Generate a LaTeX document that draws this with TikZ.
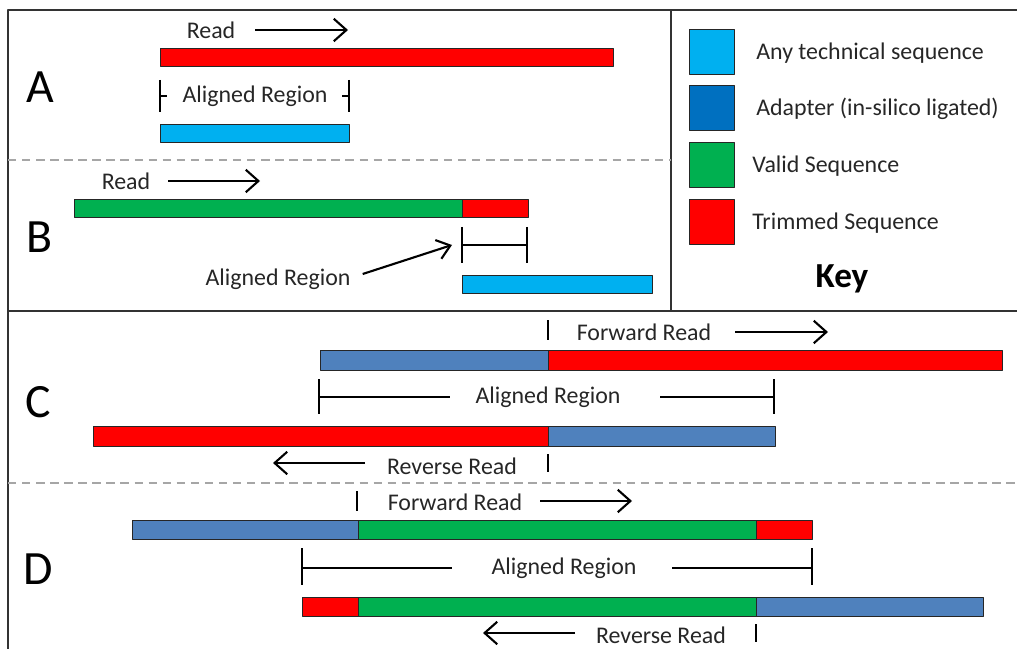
\documentclass[tikz,border=0pt]{standalone}
\usepackage{fontspec}
\setmainfont{Carlito}
\usetikzlibrary{arrows.meta, positioning, calc}
\definecolor{trimred}{HTML}{FF0000}
\definecolor{techblue}{HTML}{00B0F0}
\definecolor{adaptblue}{HTML}{0070C0}
\definecolor{readblue}{HTML}{4F81BD}
\definecolor{validgreen}{HTML}{00B050}
\definecolor{inktext}{HTML}{262626}

\begin{document}
\begin{tikzpicture}[x=0.025cm, y=-0.025cm, line join=round,
    seq/.style={draw=black!85, line width=0.5pt},
    tick/.style={line width=1.4pt},
    readarrow/.style={line width=1.5pt, -{Straight Barb[length=9pt,width=16pt]}},
    lbl/.style={font=\fontsize{17}{20}\selectfont, text=inktext, inner sep=0pt},
    panel/.style={font=\fontsize{34}{38}\selectfont, inner sep=0pt},
    keybox/.style={draw=black!85, line width=0.5pt, minimum size=1.12cm, inner sep=0pt},
    sep/.style={gray!70, line width=0.9pt, dash pattern=on 6pt off 4pt}]
      \useasboundingbox (0,0) rectangle (1017,649);
      % frame
      \draw[line width=0.9pt, black!80] (8,649) -- (8,10) -- (1017,10);
      \draw[line width=0.9pt, black!80] (671,10) -- (671,311);
      \draw[line width=0.9pt, black!80] (8,311) -- (1017,311);
      \draw[sep] (8,160) -- (671,160);
      \draw[sep] (8,483) -- (1017,483);

      % A
      \node[panel] (pA) at (40,87) {A};
      \node[lbl] (readA) at (211,30) {Read};
      \draw[readarrow] (255,30) -- (348,30);
      \draw[seq, fill=trimred] (160,48) rectangle (613,66);
      \node[lbl] (alA) at (255,96) {Aligned Region};
      \draw[tick] (160,80) -- (160,112) (160,96) -- (167,96);
      \draw[tick] (349,80) -- (349,112) (349,96) -- (342,96);
      \draw[seq, fill=techblue] (160,124) rectangle (349,142);

      % B
      \node[panel] (pB) at (40,237) {B};
      \node[lbl] (readB) at (126,181) {Read};
      \draw[readarrow] (168,181) -- (260,181);
      \draw[seq, fill=validgreen] (74,199) rectangle (462,217);
      \draw[seq, fill=trimred] (462,199) rectangle (528,217);
      \draw[tick] (462,227) -- (462,263) (527,227) -- (527,263) (462,245) -- (527,245);
      \node[lbl] (alB) at (278,279) {Aligned Region};
      \coordinate (alBtip) at (452,245);
      \draw[line width=1.5pt, -{Straight Barb[length=9pt,width=14pt]}] (alB.east) ++(12,-5) -- (alBtip);
      \draw[seq, fill=techblue] (462,275) rectangle (652,293);

      % key
      \node[keybox, fill=techblue] (k1) at (711.5,51.5) {};
      \node[keybox, fill=adaptblue] (k2) at (711.5,107.5) {};
      \node[keybox, fill=validgreen] (k3) at (711.5,164.5) {};
      \node[keybox, fill=trimred] (k4) at (711.5,221.5) {};
      \node[lbl, anchor=west] at (756,53) {Any technical sequence};
      \node[lbl, anchor=west] at (756,109) {Adapter (in-silico ligated)};
      \node[lbl, anchor=west] at (752,166) {Valid Sequence};
      \node[lbl, anchor=west] at (752,223) {Trimmed Sequence};
      \node[font=\fontsize{25}{30}\selectfont\bfseries, inner sep=0pt] (key) at (842,279) {Key};

      % C
      \node[panel] (pC) at (38,402) {C};
      \draw[tick] (548,320) -- (548,340);
      \node[lbl] (fwdC) at (644,332) {Forward Read};
      \draw[readarrow] (735,332) -- (828,332);
      \draw[seq, fill=readblue] (320,350) rectangle (548,370);
      \draw[seq, fill=trimred] (548,350) rectangle (1002,370);
      \node[lbl] (alC) at (548,397) {Aligned Region};
      \draw[tick] (319,379) -- (319,414) (319,397) -- (450,397);
      \draw[tick] (774,379) -- (774,414) (774,397) -- (660,397);
      \draw[seq, fill=trimred] (93,426) rectangle (548,446);
      \draw[seq, fill=readblue] (548,426) rectangle (775,446);
      \draw[readarrow] (365,463) -- (273,463);
      \node[lbl] (revC) at (452,466) {Reverse Read};
      \draw[tick] (548,454) -- (548,472);

      % D
      \node[panel] (pD) at (38,569) {D};
      \draw[tick] (357,491) -- (357,511);
      \node[lbl] (fwdD) at (455,502) {Forward Read};
      \draw[readarrow] (540,501) -- (632,501);
      \draw[seq, fill=readblue] (132,520) rectangle (358,539);
      \draw[seq, fill=validgreen] (358,520) rectangle (756,539);
      \draw[seq, fill=trimred] (756,520) rectangle (812,539);
      \node[lbl] (alD) at (564,568) {Aligned Region};
      \draw[tick] (302,548) -- (302,585) (302,568) -- (452,568);
      \draw[tick] (812,548) -- (812,585) (812,568) -- (672,568);
      \draw[seq, fill=trimred] (302,597) rectangle (358,616);
      \draw[seq, fill=validgreen] (358,597) rectangle (756,616);
      \draw[seq, fill=readblue] (756,597) rectangle (983,616);
      \draw[readarrow] (575,633) -- (483,633);
      \node[lbl] (revD) at (661,635) {Reverse Read};
      \draw[tick] (756,624) -- (756,642);
\end{tikzpicture}
\end{document}
